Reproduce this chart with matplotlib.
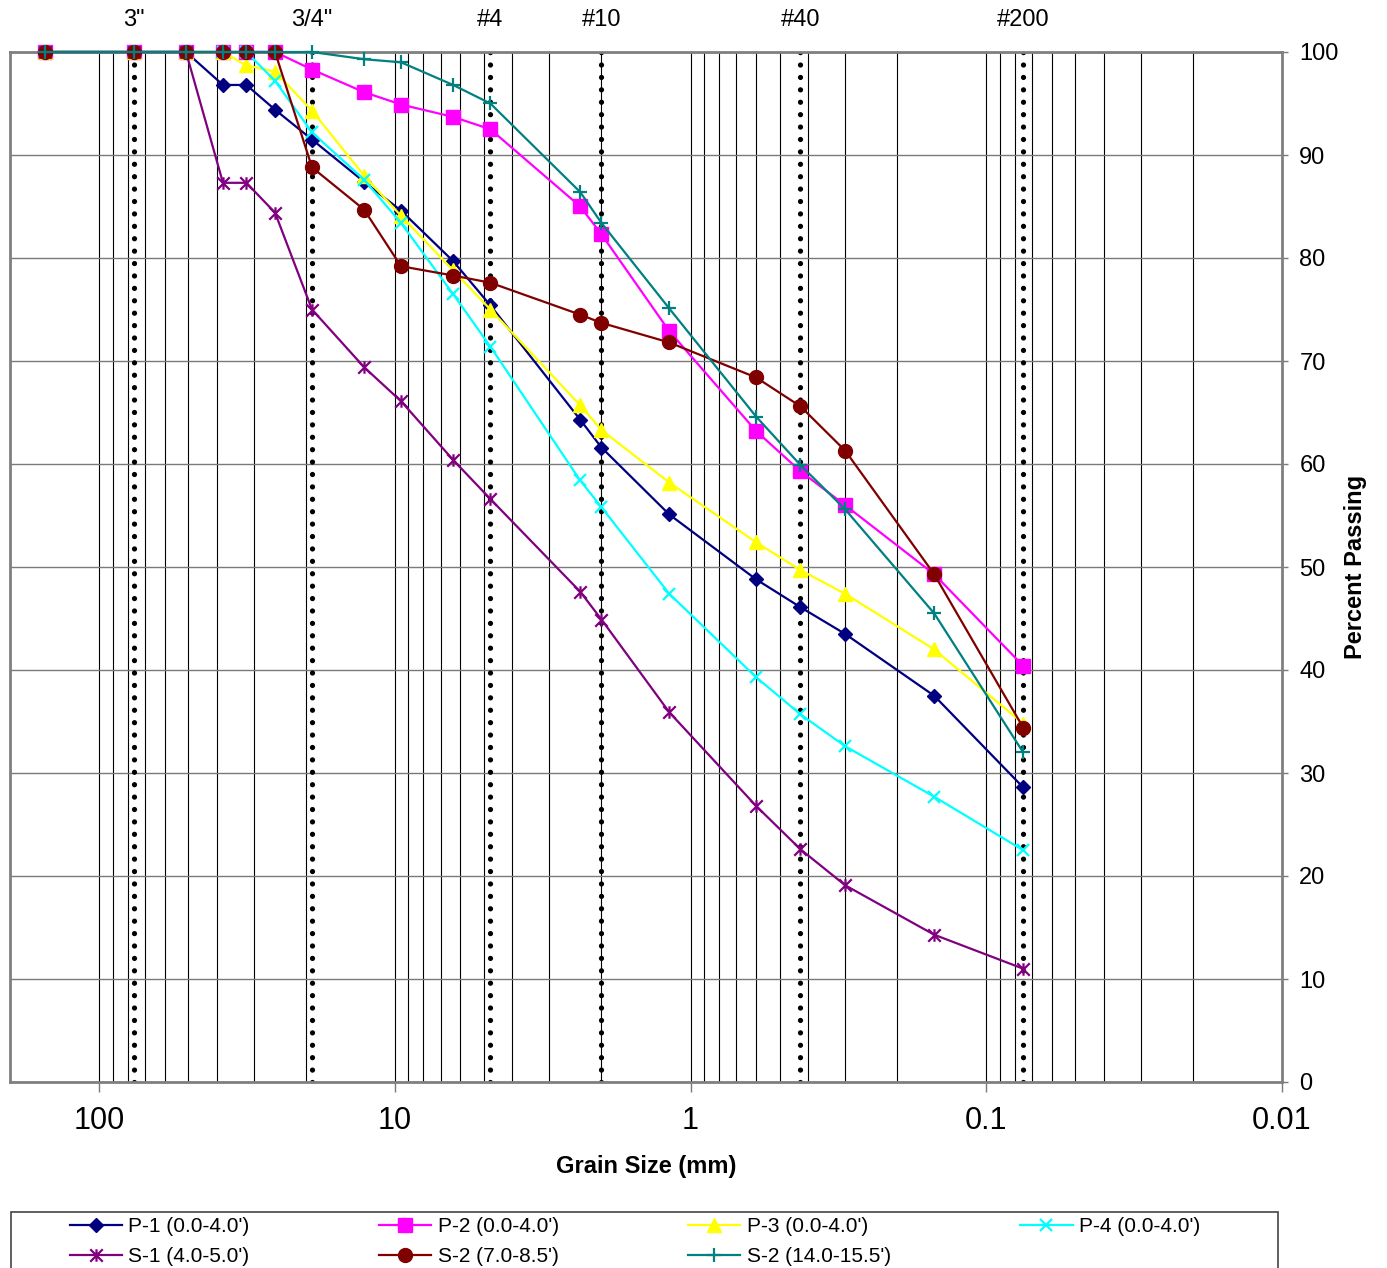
import matplotlib
matplotlib.use("Agg")
import matplotlib.pyplot as plt
from matplotlib.path import Path
from matplotlib.patches import Rectangle

plt.rcParams['font.family'] = ['Liberation Sans', 'DejaVu Sans']

# sieve openings (mm) used for every sample
sizes_mm = [152.4, 76.2, 50.8, 38.1, 31.75, 25.4, 19.05, 12.7, 9.525, 6.35,
            4.75, 2.36, 2.0, 1.18, 0.6, 0.425, 0.3, 0.15, 0.075]

# percent passing per sample
p1 = [100, 100, 100, 96.8, 96.8, 94.4, 91.5, 87.4, 84.6, 79.7,
      75.4, 64.3, 61.6, 55.1, 48.8, 46.1, 43.5, 37.5, 28.6]
p2 = [100, 100, 100, 100, 100, 100, 98.3, 96.1, 94.9, 93.7,
      92.5, 85.0, 82.3, 72.9, 63.2, 59.3, 56.0, 49.3, 40.4]
p3 = [100, 100, 100, 100, 98.7, 98.1, 94.3, 88.0, 84.1, 78.8,
      75.0, 65.7, 63.3, 58.2, 52.4, 49.7, 47.4, 42.0, 34.8]
p4 = [100, 100, 100, 100, 100, 97.2, 92.2, 87.6, 83.4, 76.5,
      71.4, 58.4, 55.8, 47.4, 39.3, 35.7, 32.6, 27.7, 22.5]
s1 = [100, 100, 100, 87.3, 87.3, 84.4, 75.0, 69.4, 66.1, 60.4,
      56.6, 47.6, 44.9, 35.9, 26.8, 22.6, 19.1, 14.3, 11.0]
s2_shallow = [100, 100, 100, 100, 100, 100, 88.8, 84.7, 79.2, 78.3,
              77.6, 74.5, 73.7, 71.8, 68.4, 65.6, 61.3, 49.3, 34.4]
s2_deep = [100, 100, 100, 100, 100, 100, 100, 99.3, 99.0, 96.8,
           95.0, 86.4, 83.4, 75.1, 64.6, 59.9, 55.6, 45.5, 32.0]

labels = ["P-1 (0.0-4.0')", "P-2 (0.0-4.0')", "P-3 (0.0-4.0')", "P-4 (0.0-4.0')",
          "S-1 (4.0-5.0')", "S-2 (7.0-8.5')", "S-2 (14.0-15.5')"]

# reference sieves drawn as dotted lines
sieve_names = ['3"', '3/4"', '#4', '#10', '#40', '#200']
sieve_mm = [76.2, 19.05, 4.75, 2.0, 0.425, 0.075]

major_ticks = [100, 10, 1, 0.1, 0.01]
major_labels = ['100', '10', '1', '0.1', '0.01']

# excel-style star: an X with a vertical bar
star = Path([(-1, -1), (1, 1), (-1, 1), (1, -1), (0, -1), (0, 1)],
            [Path.MOVETO, Path.LINETO, Path.MOVETO, Path.LINETO, Path.MOVETO, Path.LINETO])

styles = [
    dict(color='#000080', marker='D', ms=7.3),
    dict(color='#FF00FF', marker='s', ms=9.5),
    dict(color='#FFFF00', marker='^', ms=10),
    dict(color='#00FFFF', marker='x', ms=9, mew=1.6),
    dict(color='#800080', marker=star, ms=9, mew=1.6),
    dict(color='#800000', marker='o', ms=10),
    dict(color='#008080', marker='+', ms=9.5, mew=1.6),
]
series = [p1, p2, p3, p4, s1, s2_shallow, s2_deep]

fig = plt.figure(figsize=(13.87, 12.68), dpi=100)
ax = fig.add_axes([10 / 1387, 1 - 1082 / 1268, 1272 / 1387, 1030 / 1268])

ax.set_xscale('log')
ax.set_xlim(200, 0.01)
ax.set_ylim(0, 100)

ax.grid(True, which='major', axis='y', color='#7a7a7a', lw=1.0)
ax.grid(True, which='both', axis='x', color='black', lw=0.8)
ax.set_axisbelow(True)

for sz in sieve_mm:
    ax.axvline(sz, color='black', lw=3.8, linestyle=(0, (0.001, 2.35)),
               dash_capstyle='round', zorder=1.5)
for name, sz in zip(sieve_names, sieve_mm):
    ax.text(sz, 1.031, name, transform=ax.get_xaxis_transform(),
            ha='center', va='center', fontsize=17)

handles = []
for vals, lab, st in zip(series, labels, styles):
    h, = ax.plot(sizes_mm, vals, lw=1.6, label=lab, mec=st['color'],
                 mfc=st['color'], clip_on=False, zorder=3, **st)
    handles.append(h)

ax.set_xticks(major_ticks)
ax.set_xticklabels(major_labels)
ax.tick_params(axis='x', which='major', direction='out', length=7, width=1,
               color='#7a7a7a', labelsize=22, pad=10)
ax.tick_params(axis='x', which='minor', length=0)
ax.xaxis.set_minor_formatter(plt.NullFormatter())

ax.yaxis.tick_right()
ax.yaxis.set_label_position('right')
ax.set_yticks(range(0, 101, 10))
ax.tick_params(axis='y', direction='out', length=4.5, width=1,
               color='#7a7a7a', labelsize=17, pad=8)

for sp in ax.spines.values():
    sp.set_color('#808080')
    sp.set_linewidth(2)

ax.set_xlabel('Grain Size (mm)', fontsize=17, fontweight='bold', labelpad=14)
ax.set_ylabel('Percent Passing', fontsize=17, fontweight='bold', labelpad=4)

# legend box at the bottom
fig.patches.append(Rectangle((11 / 1387, -0.05), 1267 / 1387, 0.05 + 1 - 1212 / 1268,
                             transform=fig.transFigure, fill=False,
                             edgecolor='#444444', lw=1.2))
order = [0, 4, 1, 5, 2, 6, 3]
fig.legend([handles[i] for i in order], [labels[i] for i in order],
           loc='upper left', ncol=4, mode='expand', frameon=False,
           bbox_to_anchor=(70 / 1387, 1 - 1217 / 1268, 1130 / 1387, 0),
           borderpad=0, borderaxespad=0, fontsize=15, handlelength=2.5,
           handletextpad=0.3, labelspacing=0.55)

fig.savefig('out.png', dpi=100)
